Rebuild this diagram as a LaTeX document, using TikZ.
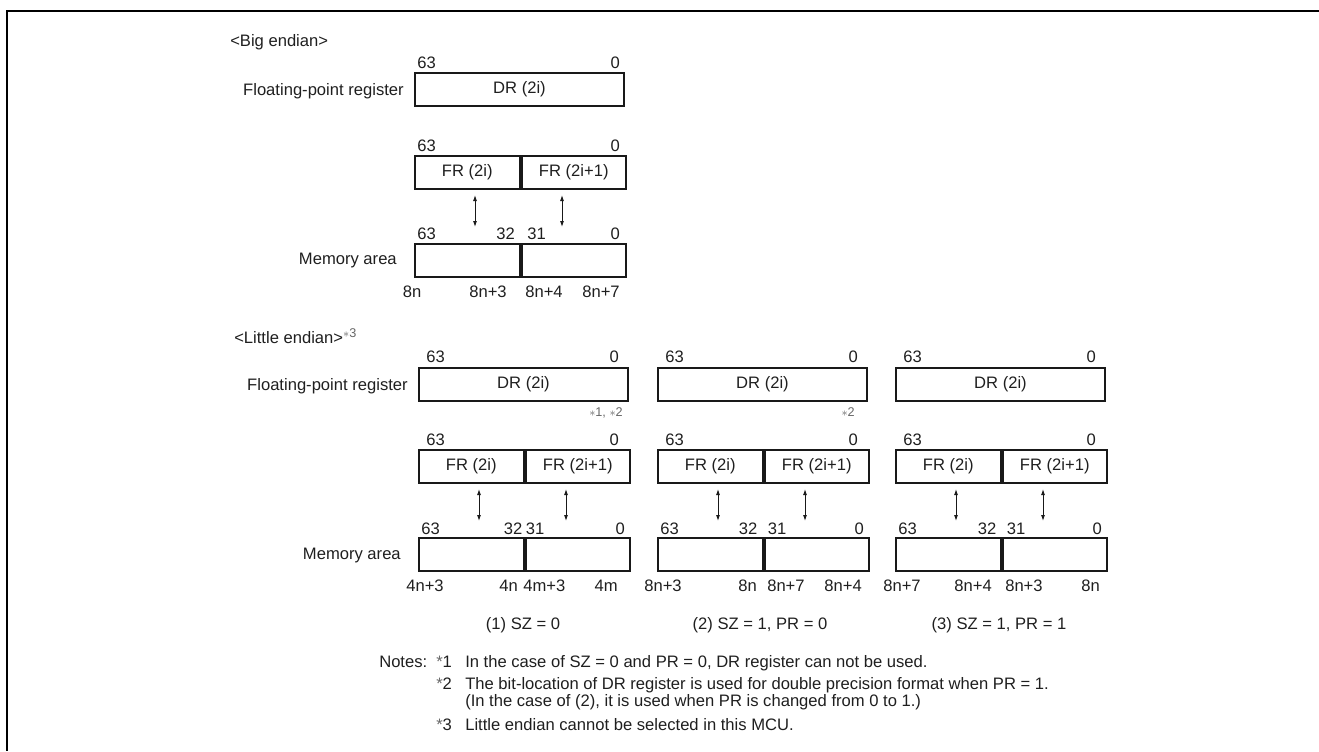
\documentclass[tikz,border=0pt]{standalone}
\usepackage{fontspec}
\setmainfont{Liberation Sans}
\usetikzlibrary{arrows.meta,calc}
\begin{document}
\begin{tikzpicture}[x=0.75pt,y=-0.75pt,
  txt/.style={inner sep=0pt, font=\fontsize{12.45}{15}\selectfont, text=black!88},
  small/.style={inner sep=0pt, font=\fontsize{9.5}{11}\selectfont, text=black!60},
  regbox/.style={draw=black!90, line width=1.5pt, inner sep=0pt, minimum width=156.75pt, minimum height=24.75pt, anchor=north west, txt},
  halfbox/.style={regbox, minimum width=78.375pt},
  biarrow/.style={{Latex[length=4.5pt,width=3pt]}-{Latex[length=4.5pt,width=3pt]}, line width=0.7pt, draw=black!90},
  frameline/.style={line width=1.8pt, draw=black}]

\useasboundingbox (0,0) rectangle (1319,751);
\coordinate (ftop) at (1319,11);
\coordinate (fcorner) at (7,11);
\coordinate (fbottom) at (7,751);
\draw[frameline] (ftop) -- (fcorner) -- (fbottom);

% ---------------- Big endian ----------------
\node[txt, anchor=base west] (bigtitle) at (230,46) {<Big endian>};
\node[regbox] (bdr) at (414,72) {DR (2i)};
\node[txt, anchor=base west] (bdrh) at (417,68) {63};
\node[txt, anchor=base east] (bdrl) at (620,68) {0};
\node[txt, anchor=base east] (bfpr) at (404,95) {Floating-point register};

\node[halfbox] (bfra) at (414,155) {FR (2i)};
\node[halfbox] (bfrb) at (bfra.north east) {FR (2i+1)};
\node[txt, anchor=base west] (bfrh) at (417,151) {63};
\node[txt, anchor=base east] (bfrl) at (620,151) {0};

\node[halfbox] (bmema) at (414,243) {};
\node[halfbox] (bmemb) at (bmema.north east) {};
\node[txt, anchor=base west] (bm63) at (417,239) {63};
\node[txt, anchor=base east] (bm32) at (515,239) {32};
\node[txt, anchor=base west] (bm31) at (527,239) {31};
\node[txt, anchor=base east] (bm0) at (620,239) {0};
\node[txt, anchor=base east] (bmemlbl) at (397,264) {Memory area};

\coordinate (ba1t) at ($(bfra.south west)+(61,5)$);
\coordinate (ba1b) at ($(bmema.north west)+(61,-16)$);
\coordinate (ba2t) at ($(bfra.south west)+(148,5)$);
\coordinate (ba2b) at ($(bmema.north west)+(148,-16)$);
\draw[biarrow] (ba1t) -- (ba1b);
\draw[biarrow] (ba2t) -- (ba2b);

\node[txt, anchor=base] (bad1) at (412,297) {8n};
\node[txt, anchor=base] (bad2) at (488,297) {8n+3};
\node[txt, anchor=base] (bad3) at (544,297) {8n+4};
\node[txt, anchor=base] (bad4) at (601,297) {8n+7};

% ---------------- Little endian ----------------
\node[txt, anchor=base west] (littitle) at (234,343) {<Little endian>{\fontsize{9.5}{10}\selectfont\color{black!60}\raisebox{4.5pt}{$\ast$3}}};
\node[txt, anchor=base east] (lfpr) at (408,390) {Floating-point register};
\node[txt, anchor=base east] (lmemlbl) at (401,559) {Memory area};

\foreach \i/\L/\a/\b in {1/418/0/3, 2/657/-4/6, 3/895/-3/7} {
  \node[regbox] (dr\i) at (\L,367) {DR (2i)};
  \node[txt, anchor=base west] (drh\i) at (\L+8,362) {63};
  \node[txt, anchor=base east] (drl\i) at (\L+201,362) {0};

  \node[halfbox] (fra\i) at (\L,449) {FR (2i)};
  \node[halfbox] (frb\i) at (fra\i.north east) {FR (2i+1)};
  \node[txt, anchor=base west] (frh\i) at (\L+8,445) {63};
  \node[txt, anchor=base east] (frl\i) at (\L+201,445) {0};

  \node[halfbox] (mema\i) at (\L,537) {};
  \node[halfbox] (memb\i) at (mema\i.north east) {};
  \node[txt, anchor=base west] (m63\i) at (\L+3,534) {63};
  \node[txt, anchor=base east] (m32\i) at (\L+104.5+\a,534) {32};
  \node[txt, anchor=base west] (m31\i) at (\L+104.5+\b,534) {31};
  \node[txt, anchor=base east] (m0\i) at (\L+207,534) {0};

  \coordinate (a1t\i) at ($(fra\i.south west)+(61,5)$);
  \coordinate (a1b\i) at ($(mema\i.north west)+(61,-16)$);
  \coordinate (a2t\i) at ($(fra\i.south west)+(148,5)$);
  \coordinate (a2b\i) at ($(mema\i.north west)+(148,-16)$);
  \draw[biarrow] (a1t\i) -- (a1b\i);
  \draw[biarrow] (a2t\i) -- (a2b\i);
}

\node[small, anchor=base east] (fn1) at (623,416) {$\ast$1, $\ast$2};
\node[small, anchor=base east] (fn2) at (855,416) {$\ast$2};

% address labels
\node[txt, anchor=base] (c1a) at (425,591) {4n+3};
\node[txt, anchor=base east] (c1b) at (518,591) {4n};
\node[txt, anchor=base west] (c1c) at (523,591) {4m+3};
\node[txt, anchor=base east] (c1d) at (618,591) {4m};

\node[txt, anchor=base] (c2a) at (663,591) {8n+3};
\node[txt, anchor=base east] (c2b) at (757,591) {8n};
\node[txt, anchor=base west] (c2c) at (767,591) {8n+7};
\node[txt, anchor=base east] (c2d) at (862,591) {8n+4};

\node[txt, anchor=base] (c3a) at (902,591) {8n+7};
\node[txt, anchor=base east] (c3b) at (992,591) {8n+4};
\node[txt, anchor=base west] (c3c) at (1005,591) {8n+3};
\node[txt, anchor=base east] (c3d) at (1100,591) {8n};

% case captions
\node[txt, anchor=base] (case1) at (523,629) {(1) SZ = 0};
\node[txt, anchor=base] (case2) at (760,629) {(2) SZ = 1, PR = 0};
\node[txt, anchor=base] (case3) at (999,629) {(3) SZ = 1, PR = 1};

% notes
\node[txt, anchor=base west] (notes) at (379,667) {Notes:};
\node[txt, anchor=base west] (n1m) at (436,667) {{\color{black!60}*}1};
\node[txt, anchor=base west] (n1t) at (465,667) {In the case of SZ = 0 and PR = 0, DR register can not be used.};
\node[txt, anchor=base west] (n2m) at (436,689) {{\color{black!60}*}2};
\node[txt, anchor=base west] (n2t) at (465,689) {The bit-location of DR register is used for double precision format when PR = 1.};
\node[txt, anchor=base west] (n3t) at (465,706) {(In the case of (2), it is used when PR is changed from 0 to 1.)};
\node[txt, anchor=base west] (n4m) at (436,730) {{\color{black!60}*}3};
\node[txt, anchor=base west] (n4t) at (465,730) {Little endian cannot be selected in this MCU.};
\end{tikzpicture}
\end{document}
